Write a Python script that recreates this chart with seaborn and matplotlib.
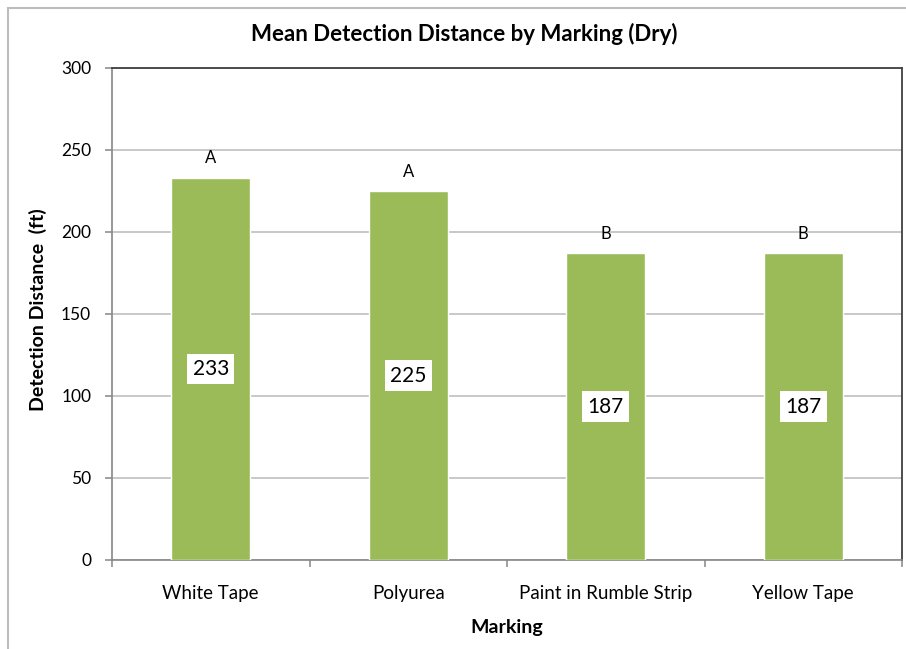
import matplotlib
matplotlib.use("Agg")
import matplotlib.pyplot as plt
import seaborn as sns
import pandas as pd
from matplotlib.patches import Rectangle
from matplotlib.ticker import FixedLocator

categories = ["White Tape", "Polyurea", "Paint in Rumble Strip", "Yellow Tape"]
values = [233, 225, 187, 187]
groups = ["A", "A", "B", "B"]
yticks = [0, 50, 100, 150, 200, 250, 300]

sns.set_theme(style="white")
plt.rcParams['font.family'] = ['Lato', 'DejaVu Sans']

W, H = 906, 649
fig = plt.figure(figsize=(W / 100, H / 100), dpi=100)
fig.patch.set_facecolor("white")

# outer chart border
fig.patches.append(Rectangle((8 / W, -0.02), 1.02, 1 - 8 / H + 0.02, transform=fig.transFigure,
                             fill=False, edgecolor="#BDBDBD", linewidth=1.5, zorder=0))

ax = fig.add_axes([112 / W, 1 - 560 / H, (902 - 112) / W, (560 - 68) / H])

df = pd.DataFrame({"Marking": categories, "Distance": values})
sns.barplot(data=df, x="Marking", y="Distance", color="#9BBB59", width=0.4,
            saturation=1, ax=ax, zorder=3)

ax.set_xlim(-0.5, len(categories) - 0.5)
ax.set_ylim(0, 300)
ax.set_yticks(yticks)
ax.yaxis.grid(True, color="#BFBFBF", linewidth=1.2, zorder=0)
ax.set_axisbelow(True)

for s in ["left", "bottom"]:
    ax.spines[s].set_color("#868686")
    ax.spines[s].set_linewidth(1.2)
for s in ["top", "right"]:
    ax.spines[s].set_color("#404040")
    ax.spines[s].set_linewidth(1.3)
    ax.spines[s].set_visible(True)

ax.tick_params(axis="y", which="major", length=5, width=1.1, color="#868686",
               pad=10, labelsize=12.5, labelcolor="black", left=True)
ax.tick_params(axis="x", which="major", length=0, pad=18, labelsize=13.5, labelcolor="black")
ax.xaxis.set_minor_locator(FixedLocator([i - 0.5 for i in range(len(categories) + 1)]))
ax.tick_params(axis="x", which="minor", length=5, width=1.1, color="#868686", bottom=True)

ax.set_xlabel("")
ax.set_ylabel("")

for i, (v, g) in enumerate(zip(values, groups)):
    ax.text(i, v / 2, str(v), ha="center", va="center", fontsize=15, color="black",
            bbox=dict(boxstyle="square,pad=0.25", facecolor="white", edgecolor="none"), zorder=5)
    ax.text(i, v + 7, g, ha="center", va="bottom", fontsize=12, color="black", zorder=5)

fig.text(464 / W, 1 - 34 / H, "Mean Detection Distance by Marking (Dry)", ha="center", va="center",
         fontsize=16, fontweight="bold", color="black")
fig.text(507 / W, 1 - 628 / H, "Marking", ha="center", va="center",
         fontsize=14, fontweight="bold", color="black")
fig.text(38 / W, 1 - 310 / H, "Detection Distance  (ft)", ha="center", va="center",
         rotation=90, fontsize=14, fontweight="bold", color="black")

fig.savefig("out.png", dpi=100, facecolor="white")
